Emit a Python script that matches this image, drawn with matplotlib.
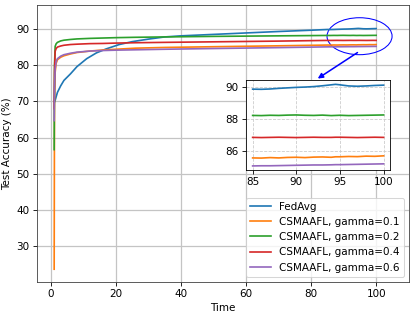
"""Test accuracy vs time: FedAvg against CSMAAFL for several gamma values, with a zoomed inset."""

import matplotlib
matplotlib.use("Agg")
import matplotlib.pyplot as plt
from matplotlib.patches import Ellipse

# --- data ---
late_t = [85, 86, 87, 88, 89, 90, 91, 92, 93, 94, 94.5, 95, 96, 97, 98, 99, 100]

fedavg_t = [1.2, 2, 3, 4, 6, 8, 11, 14, 17, 21, 25, 30, 35, 40, 50, 60, 70, 80] + late_t
fedavg_acc = [70.0, 72.5, 74.3, 75.8, 77.6, 79.6, 81.8, 83.4, 84.5, 85.7, 86.5, 87.2, 87.8,
              88.1, 88.5, 88.9, 89.3, 89.65,
              89.85, 89.84, 89.86, 89.90, 89.93, 89.96, 89.98, 90.01, 90.06, 90.12, 90.15,
              90.12, 90.05, 90.03, 90.05, 90.08, 90.10]

early_t = [1, 1.1, 1.3, 1.6, 2, 3, 4, 6, 8, 12, 16, 20, 26, 35, 50, 70]

g01_t = early_t + late_t
g01_acc = [23.7, 70.0, 78.0, 80.5, 81.5, 82.2, 82.6, 83.1, 83.5, 83.9, 84.2, 84.4, 84.7,
           84.9, 85.1, 85.35,
           85.56, 85.55, 85.58, 85.56, 85.59, 85.60, 85.58, 85.61, 85.62, 85.60, 85.63,
           85.63, 85.65, 85.64, 85.67, 85.66, 85.69]

g02_t = early_t + late_t
g02_acc = [56.7, 80.0, 85.2, 85.9, 86.3, 86.7, 86.9, 87.1, 87.25, 87.4, 87.5, 87.6, 87.7,
           87.8, 87.95, 88.1,
           88.21, 88.20, 88.22, 88.21, 88.23, 88.24, 88.22, 88.21, 88.23, 88.20, 88.21,
           88.22, 88.20, 88.21, 88.22, 88.23, 88.24]

g04_t = early_t + late_t
g04_acc = [68.0, 78.0, 83.8, 84.6, 85.0, 85.3, 85.5, 85.7, 85.8, 85.95, 86.0, 86.1, 86.2,
           86.3, 86.45, 86.65,
           86.84, 86.83, 86.84, 86.85, 86.84, 86.83, 86.84, 86.85, 86.84, 86.84, 86.85,
           86.85, 86.84, 86.83, 86.84, 86.85, 86.84]

g06_t = early_t + late_t
g06_acc = [64.7, 74.0, 79.0, 81.0, 81.8, 82.5, 82.9, 83.3, 83.6, 83.9, 84.05, 84.15, 84.25,
           84.4, 84.6, 84.85,
           85.06, 85.07, 85.07, 85.08, 85.09, 85.10, 85.11, 85.12, 85.12, 85.13, 85.14,
           85.14, 85.15, 85.16, 85.17, 85.18, 85.19]

series = [
    ("FedAvg", fedavg_t, fedavg_acc),
    ("CSMAAFL, gamma=0.1", g01_t, g01_acc),
    ("CSMAAFL, gamma=0.2", g02_t, g02_acc),
    ("CSMAAFL, gamma=0.4", g04_t, g04_acc),
    ("CSMAAFL, gamma=0.6", g06_t, g06_acc),
]
colors = ["C0", "C1", "C2", "C3", "C4"]

DPI = 75


def main():
    fig = plt.figure(figsize=(415 / DPI, 315 / DPI), dpi=DPI)
    ax = fig.add_axes([0.089, 0.105, 0.8965, 0.879])

    for (label, t, acc), c in zip(series, colors):
        ax.plot(t, acc, color=c, lw=1.6, label=label)

    ax.set_xlim(-4.3, 110.1)
    ax.set_ylim(20.2, 96.6)
    ax.set_xticks([0, 20, 40, 60, 80, 100])
    ax.set_yticks([30, 40, 50, 60, 70, 80, 90])
    ax.grid(color="#c4c4c4", lw=1.2)
    ax.set_axisbelow(True)
    ax.set_xlabel("Time")
    ax.set_ylabel("Test Accuracy (%)")
    for s in ax.spines.values():
        s.set_color("#404040")

    # highlight of the zoomed region
    ax.add_patch(Ellipse((94.9, 88.0), 20.0, 10.2, fill=False, edgecolor="blue", lw=1.0))
    ax.annotate("", xy=(81.5, 76.0), xytext=(94.8, 83.8),
                arrowprops=dict(arrowstyle="-|>", color="blue", lw=1.5, mutation_scale=10))

    ax.legend(loc="lower right", fontsize=10)

    # inset
    axin = fig.add_axes([0.593, 0.460, 0.347, 0.286])
    for (label, t, acc), c in zip(series, colors):
        pts = [(ti, ai) for ti, ai in zip(t, acc) if ti >= 85]
        axin.plot([p[0] for p in pts], [p[1] for p in pts], color=c, lw=1.6)
    axin.set_xlim(84.25, 100.75)
    axin.set_ylim(84.8, 90.42)
    axin.set_xticks([85, 90, 95, 100])
    axin.set_yticks([86, 88, 90])
    axin.grid(ls="--", color="#cccccc", lw=0.8)
    axin.set_axisbelow(True)

    fig.savefig("out.png", dpi=DPI)
    plt.close(fig)


if __name__ == "__main__":
    main()
